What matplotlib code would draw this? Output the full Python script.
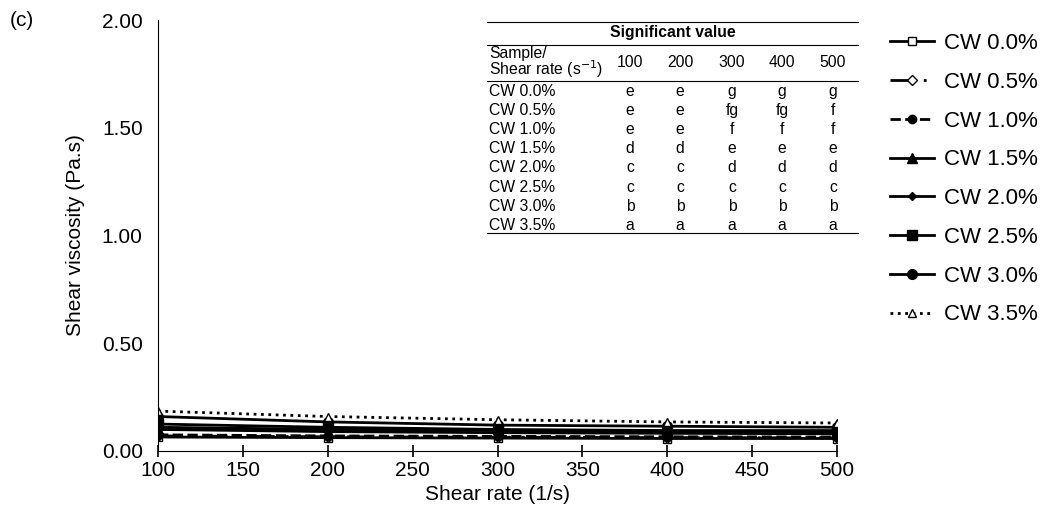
import numpy as np
import matplotlib.pyplot as plt
from matplotlib.lines import Line2D

plt.rcParams['font.family'] = ['Liberation Sans', 'DejaVu Sans']

# data
shear_rate = [100, 200, 300, 400, 500]
samples = ['CW 0.0%', 'CW 0.5%', 'CW 1.0%', 'CW 1.5%', 'CW 2.0%', 'CW 2.5%', 'CW 3.0%', 'CW 3.5%']
visc_00 = [0.065, 0.062, 0.060, 0.058, 0.058]
visc_05 = [0.070, 0.066, 0.064, 0.062, 0.061]
visc_10 = [0.075, 0.070, 0.068, 0.066, 0.065]
visc_15 = [0.100, 0.090, 0.085, 0.082, 0.080]
visc_20 = [0.110, 0.100, 0.095, 0.090, 0.088]
visc_25 = [0.125, 0.110, 0.100, 0.095, 0.095]
visc_30 = [0.160, 0.135, 0.120, 0.115, 0.110]
visc_35 = [0.185, 0.160, 0.145, 0.135, 0.130]

# significance letters (table)
table_cols = ['100', '200', '300', '400', '500']
sig_letters = [
    ['e', 'e', 'g', 'g', 'g'],
    ['e', 'e', 'fg', 'fg', 'f'],
    ['e', 'e', 'f', 'f', 'f'],
    ['d', 'd', 'e', 'e', 'e'],
    ['c', 'c', 'd', 'd', 'd'],
    ['c', 'c', 'c', 'c', 'c'],
    ['b', 'b', 'b', 'b', 'b'],
    ['a', 'a', 'a', 'a', 'a'],
]

W, H = 1048, 517
fig = plt.figure(figsize=(W / 100, H / 100), dpi=100)
ax = fig.add_axes([158 / W, 1 - 451 / H, 679 / W, 431 / H])

series = [visc_00, visc_05, visc_10, visc_15, visc_20, visc_25, visc_30, visc_35]
styles = [
    dict(ls='-', marker='s', mfc='white', ms=6),
    dict(ls=(0, (8, 4, 1, 4)), marker='D', mfc='white', ms=5),
    dict(ls='--', marker='o', mfc='black', ms=6),
    dict(ls='-', marker='^', mfc='black', ms=7),
    dict(ls='-', marker='D', mfc='black', ms=4),
    dict(ls='-', marker='s', mfc='black', ms=7),
    dict(ls='-', marker='o', mfc='black', ms=7),
    dict(ls=':', marker='^', mfc='white', ms=6),
]
for y, lab, st in zip(series, samples, styles):
    ax.plot(shear_rate, y, color='black', lw=2, mec='black', label=lab, **st)

ax.set_xlim(100, 500)
ax.set_ylim(0, 2.0)
ax.set_xticks(np.arange(100, 501, 50))
ax.set_yticks([0, 0.5, 1.0, 1.5, 2.0])
ax.set_yticklabels(['0.00', '0.50', '1.00', '1.50', '2.00'])
ax.spines['top'].set_visible(False)
ax.spines['right'].set_visible(False)
ax.tick_params(axis='x', direction='inout', length=8, width=1.2, labelsize=15, pad=3)
ax.tick_params(axis='y', length=0, labelsize=15, pad=11)
ax.set_xlabel('Shear rate (1/s)', fontsize=15, labelpad=4)
ax.set_ylabel('Shear viscosity (Pa.s)', fontsize=15, labelpad=12)

fig.text(10 / W, 1 - 20 / H, '(c)', fontsize=15, va='center', ha='left')

leg = ax.legend(loc='upper left', bbox_to_anchor=(890 / W, 1 - 33 / H),
                bbox_transform=fig.transFigure, frameon=False, fontsize=16,
                handlelength=2.0, handletextpad=0.45, labelspacing=0.8,
                borderaxespad=0, borderpad=0)

# significance table drawn in pixel coordinates
def fx(px):
    return px / W

def fy(py):
    return 1 - py / H

x0, x1 = 487, 858
for py in [22, 45, 81, 233]:
    fig.add_artist(Line2D([fx(x0), fx(x1)], [fy(py), fy(py)], color='black', lw=0.8))
fig.text(fx((x0 + x1) / 2), fy(33), 'Significant value', fontsize=11.3,
         fontweight='bold', ha='center', va='center')
fig.text(fx(489), fy(63), 'Sample/\nShear rate (s$^{-1}$)', fontsize=11.3,
         ha='left', va='center', linespacing=0.85)
col_x = [630, 680, 732, 782, 833]
for cx, c in zip(col_x, table_cols):
    fig.text(fx(cx), fy(63), c, fontsize=11.3, ha='center', va='center')
for i, (s, row) in enumerate(zip(samples, sig_letters)):
    ry = 91.5 + i * 19.1
    fig.text(fx(489), fy(ry), s, fontsize=11.3, ha='left', va='center')
    for cx, letter in zip(col_x, row):
        fig.text(fx(cx), fy(ry), letter, fontsize=11.3, ha='center', va='center')

fig.savefig('out.png', dpi=100)
